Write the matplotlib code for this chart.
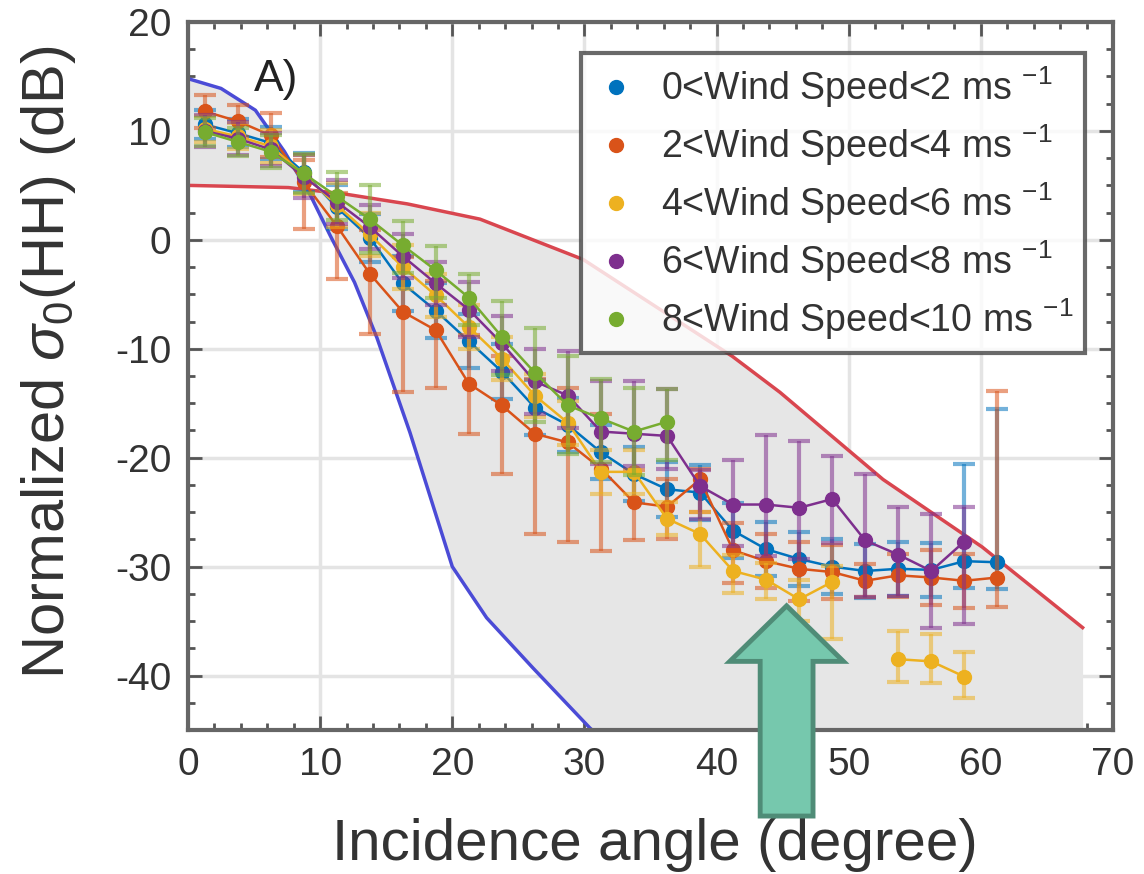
import numpy as np
import matplotlib
matplotlib.use("Agg")
import matplotlib.pyplot as plt
from matplotlib.lines import Line2D
from matplotlib.patches import Polygon

plt.rcParams['font.family'] = ['Liberation Sans', 'DejaVu Sans']
plt.rcParams['mathtext.fontset'] = 'custom'
plt.rcParams['mathtext.rm'] = 'Liberation Sans'
plt.rcParams['mathtext.it'] = 'Liberation Sans:italic'
plt.rcParams['axes.unicode_minus'] = False

# incidence angle bins (degree)
angles = [1.25, 3.75, 6.25, 8.75, 11.25, 13.75, 16.25, 18.75, 21.25, 23.75,
          26.25, 28.75, 31.25, 33.75, 36.25, 38.75, 41.25, 43.75, 46.25, 48.75,
          51.25, 53.75, 56.25, 58.75, 61.25]
nan = np.nan

# 0<WS<2
ws0_y = [10.6, 9.8, 8.9, 6.2, 3.0, 0.2, -4.0, -6.5, -9.3, -12.1, -15.4, -17.0, -19.5,
         -21.5, -22.9, -23.2, -26.7, -28.4, -29.3, -30.0, -30.4, -30.2, -30.3, -29.5, -29.6]
ws0_lo = [1.3, 1.3, 1.5, 1.8, 2.0, 2.2, 2.5, 2.5, 2.5, 2.5, 2.5, 2.5, 2.5,
          2.5, 2.5, 2.5, 2.5, 2.5, 2.5, 2.5, 2.5, 2.5, 2.5, 2.5, 2.5]
ws0_hi = [1.3, 1.3, 1.5, 1.8, 2.0, 2.2, 2.5, 2.5, 2.5, 2.5, 2.5, 2.5, 2.5,
          2.5, 2.5, 2.5, 2.5, 2.5, 2.5, 2.5, 2.5, 2.5, 2.5, 8.9, 14.1]

# 2<WS<4
ws2_y = [11.8, 10.9, 9.6, 5.3, 1.3, -3.1, -6.6, -8.3, -13.2, -15.2, -17.8, -18.6, -21.0,
         -24.1, -24.5, -22.0, -28.5, -29.5, -30.2, -30.5, -31.3, -30.8, -31.0, -31.3, -31.0]
ws2_lo = [1.5, 1.5, 2.0, 4.3, 4.9, 5.5, 7.4, 5.3, 4.6, 6.3, 9.2, 9.1, 7.6,
          3.5, 3.0, 3.0, 3.0, 2.5, 3.0, 2.5, 1.5, 2.0, 2.5, 2.5, 2.7]
ws2_hi = [1.5, 1.5, 2.0, 2.0, 3.0, 4.0, 5.0, 4.5, 4.5, 4.5, 5.0, 5.0, 5.0,
          3.0, 2.5, 1.0, 2.5, 2.5, 2.5, 2.5, 1.5, 2.0, 2.5, 2.5, 17.1]

# 4<WS<6
ws4_y = [10.2, 9.5, 8.6, 6.0, 3.2, 0.5, -2.5, -5.1, -8.0, -10.9, -14.3, -16.8, -21.3,
         -21.3, -25.6, -27.0, -30.4, -31.2, -33.0, -31.4, nan, -38.5, -38.7, -40.1, nan]
ws4_lo = [1.2, 1.2, 1.5, 1.8, 2.0, 2.0, 2.0, 2.0, 2.0, 2.0, 2.0, 2.0, 2.0,
          2.0, 1.5, 3.0, 2.0, 1.8, 2.0, 5.2, nan, 2.1, 2.0, 2.0, nan]
ws4_hi = [1.2, 1.2, 1.5, 1.8, 2.0, 2.0, 2.0, 2.0, 2.0, 2.0, 2.0, 2.0, 2.0,
          2.0, 1.5, 2.0, 1.5, 1.5, 1.8, 1.5, nan, 2.6, 2.5, 2.3, nan]

# 6<WS<8
ws6_y = [10.0, 9.3, 8.3, 5.8, 3.5, 1.2, -1.5, -4.0, -6.4, -9.5, -13.0, -14.3, -17.6,
         -17.8, -18.0, -22.6, -24.3, -24.3, -24.6, -23.8, -27.6, -28.9, -30.4, -27.7, nan]
ws6_lo = [1.5, 1.5, 1.5, 2.0, 2.0, 2.0, 2.0, 2.0, 2.5, 2.5, 3.0, 3.0, 3.0,
          3.0, 3.0, 3.0, 3.8, 4.7, 4.7, 4.0, 5.2, 3.8, 5.2, 7.6, nan]
ws6_hi = [1.5, 1.5, 1.5, 2.0, 2.0, 2.0, 2.0, 2.0, 2.5, 2.5, 3.0, 4.1, 4.6,
          4.8, 4.3, 1.5, 4.1, 6.4, 6.1, 4.0, 6.1, 4.4, 5.2, 3.2, nan]

# 8<WS<10
ws8_y = [9.9, 9.0, 8.1, 6.1, 4.0, 1.9, -0.5, -2.8, -5.3, -8.9, -12.2, -15.2, -16.4,
         -17.6, -16.7] + [nan] * 10
ws8_lo = [1.3, 1.3, 1.5, 1.8, 2.2, 3.1, 2.5, 2.5, 2.5, 3.5, 4.5, 4.5, 4.0,
          4.0, 3.5] + [nan] * 10
ws8_hi = [1.3, 1.3, 1.5, 1.8, 2.2, 3.1, 2.2, 2.2, 2.2, 3.3, 4.1, 4.5, 3.6,
          4.0, 3.0] + [nan] * 10

labels = [r'0<Wind Speed<2 ms $^{-1}$', r'2<Wind Speed<4 ms $^{-1}$',
          r'4<Wind Speed<6 ms $^{-1}$', r'6<Wind Speed<8 ms $^{-1}$',
          r'8<Wind Speed<10 ms $^{-1}$']
colors = ['#0072BD', '#D95319', '#EDB120', '#7E2F8E', '#77AC30']

# model bounds (blue = lower, red = upper)
blue_x = [0, 2.5, 5.1, 7.3, 9.3, 10.8, 12.6, 14.3, 16.8, 20.0, 22.6, 26.1, 30.4, 31.5]
blue_y = [14.8, 13.9, 11.9, 8.1, 4.0, 0.3, -3.9, -9.0, -17.7, -30.0, -34.7, -39.3, -44.8, -46.0]
red_x = [0, 7.6, 11.9, 14.5, 16.6, 22.1, 29.9, 41.2, 44.8, 52.6, 60.1, 67.7]
red_y = [5.0, 4.8, 4.2, 3.7, 3.3, 1.9, -1.8, -10.7, -14.0, -22.0, -28.2, -35.6]

fig = plt.figure(figsize=(11.44, 8.74), dpi=100)
ax = fig.add_axes([188 / 1144, 1 - 730 / 874, 925 / 1144, 708 / 874])

# shaded envelope between the two curves
xx = np.linspace(0, red_x[-1], 600)
rr = np.interp(xx, red_x, red_y)
bb = np.interp(xx, blue_x, blue_y, right=-60)
ax.fill_between(xx, rr, bb, color='#e6e6e6', lw=0, zorder=1)
ax.plot(red_x, red_y, color='#d9464f', lw=2.5, zorder=2)
ax.plot(blue_x, blue_y, color='#4b4bd6', lw=2.5, zorder=2)

series = [(ws0_y, ws0_lo, ws0_hi), (ws2_y, ws2_lo, ws2_hi), (ws4_y, ws4_lo, ws4_hi),
          (ws6_y, ws6_lo, ws6_hi), (ws8_y, ws8_lo, ws8_hi)]
for i, (y, lo, hi) in enumerate(series):
    line, caps, bars = ax.errorbar(angles, y, yerr=[lo, hi], fmt='o-', color=colors[i],
                                   ms=10, lw=1.8, elinewidth=3, capsize=8, capthick=3,
                                   zorder=3 + i)
    for c in caps:
        c.set_alpha(0.55)
    for b in bars:
        b.set_alpha(0.55)

# legend (markers only)
handles = [Line2D([], [], ls='none', marker='o', ms=10, color=c) for c in colors]
leg = ax.legend(handles, labels, loc='upper right', bbox_to_anchor=(0.970, 0.956),
                fontsize=27, frameon=True, fancybox=False, borderpad=0.3,
                handletextpad=0.55, labelspacing=0.33, handlelength=1.3,
                borderaxespad=0)
leg.get_frame().set_edgecolor('#444444')
leg.get_frame().set_linewidth(3)
leg.set_zorder(20)
for t in leg.get_texts():
    t.set_color('#333333')

ax.text(5.0, 14.7, 'A)', fontsize=32, va='center', ha='left', color='#222222', zorder=21)

# green arrow annotation
tip_x, tip_y = 45.3, -33.6
head_y, head_w, shaft_w, tail_y = -38.7, 4.3, 2.0, -52.9
arrow = Polygon([(tip_x, tip_y), (tip_x + head_w, head_y), (tip_x + shaft_w, head_y),
                 (tip_x + shaft_w, tail_y), (tip_x - shaft_w, tail_y),
                 (tip_x - shaft_w, head_y), (tip_x - head_w, head_y)],
                closed=True, facecolor='#76c8ad', edgecolor='#4f8c77', lw=3.5,
                clip_on=False, zorder=30)
ax.add_patch(arrow)

ax.set_xlim(0, 70)
ax.set_ylim(-45, 20)
ax.set_xticks(np.arange(0, 71, 10))
ax.set_yticks(np.arange(-40, 21, 10))
ax.set_xticks(np.arange(0, 71, 2), minor=True)
ax.set_yticks(np.arange(-45, 21, 2.5), minor=True)
ax.grid(True, which='major', color='#e4e4e4', lw=2.5, zorder=0)
ax.set_axisbelow(True)
ax.tick_params(which='both', direction='in', top=True, right=True, colors='#555555',
               labelcolor='#333333', labelsize=28, width=2)
ax.tick_params(which='major', length=10, pad=12)
ax.tick_params(which='minor', length=5)
for s in ax.spines.values():
    s.set_color('#666666')
    s.set_linewidth(3)

ax.set_xlabel('Incidence angle (degree)', fontsize=42, color='#333333')
ax.set_ylabel(r'Normalized $\sigma_0$(HH) (dB)', fontsize=43, color='#333333')
ax.xaxis.set_label_coords(0.505, -0.124)
ax.yaxis.set_label_coords(-0.119, 0.52)

fig.savefig('out.png', dpi=100)
